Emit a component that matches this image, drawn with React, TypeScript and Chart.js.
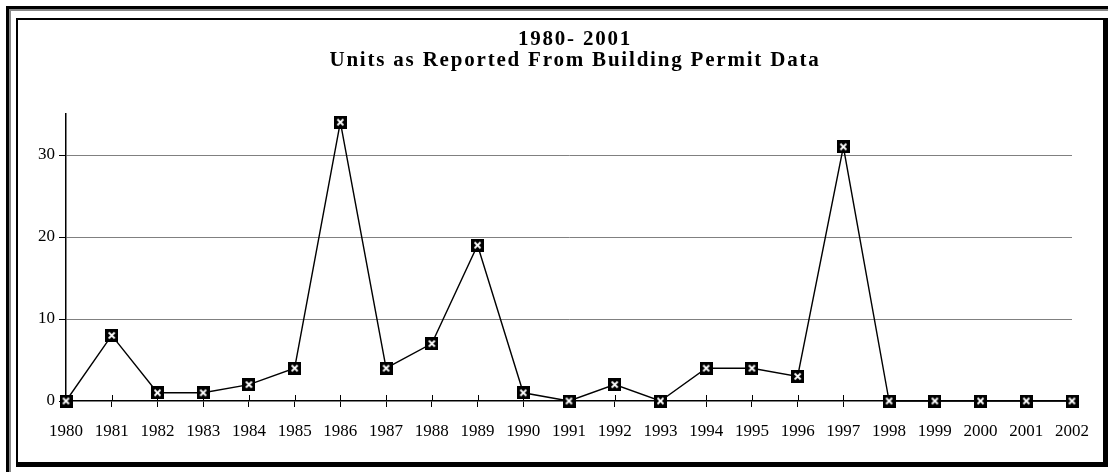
import React, { useEffect, useRef } from "react";
import { Chart, registerables } from "chart.js";

Chart.register(...registerables);

const years = [
  "1980", "1981", "1982", "1983", "1984", "1985", "1986", "1987", "1988", "1989", "1990",
  "1991", "1992", "1993", "1994", "1995", "1996", "1997", "1998", "1999", "2000", "2001", "2002",
];
const units = [0, 8, 1, 1, 2, 4, 34, 4, 7, 19, 1, 0, 2, 0, 4, 4, 3, 31, 0, 0, 0, 0, 0];
const yTicks = [0, 10, 20, 30];
const titleLines = ["1980- 2001", "Units as Reported From Building Permit Data"];

const FONT = '"Liberation Serif", "Times New Roman", serif';

function makeMarker(): HTMLCanvasElement {
  const c = document.createElement("canvas");
  c.width = 13;
  c.height = 13;
  const g = c.getContext("2d")!;
  g.fillStyle = "#000";
  g.fillRect(0, 0, 13, 13);
  g.strokeStyle = "#fff";
  g.lineWidth = 1.8;
  g.beginPath();
  g.moveTo(3.5, 3.5);
  g.lineTo(9.5, 9.5);
  g.moveTo(9.5, 3.5);
  g.lineTo(3.5, 9.5);
  g.stroke();
  return c;
}

const upTicks = {
  id: "upTicks",
  beforeDatasetsDraw(chart: any) {
    const x = chart.scales.x;
    const ctx = chart.ctx;
    ctx.save();
    ctx.strokeStyle = "#000";
    ctx.lineWidth = 1;
    x.ticks.forEach((_t: any, i: number) => {
      const px = Math.round(x.getPixelForTick(i)) + 0.5;
      ctx.beginPath();
      ctx.moveTo(px, x.top - 6);
      ctx.lineTo(px, x.top);
      ctx.stroke();
    });
    ctx.restore();
  },
};

export default function App() {
  const ref = useRef<HTMLCanvasElement>(null);
  useEffect(() => {
    const marker = makeMarker();
    const chart = new Chart(ref.current!, {
      type: "line",
      data: {
        labels: years,
        datasets: [
          {
            data: units,
            borderColor: "#000",
            borderWidth: 1.4,
            pointStyle: marker as any,
            pointRadius: 6,
            tension: 0,
            clip: false as any,
          },
        ],
      },
      options: {
        responsive: false,
        animation: false,
        layout: { padding: { left: 0, top: 114, right: 36, bottom: 0 } },
        plugins: { legend: { display: false }, tooltip: { enabled: false }, title: { display: false } },
        scales: {
          x: {
            offset: false,
            grid: { drawOnChartArea: false, drawTicks: true, tickLength: 6, color: "#000", tickColor: "#000" },
            border: { color: "#000", width: 1.5 },
            ticks: { color: "#000", font: { family: FONT, size: 17 }, padding: 14, maxRotation: 0, autoSkip: false },
            afterFit: (s: any) => {
              s.height = 71;
            },
          },
          y: {
            min: 0,
            max: 35,
            afterBuildTicks: (s: any) => {
              s.ticks = yTicks.map((v) => ({ value: v }));
            },
            grid: {
              color: (c: any) => (c.tick && c.tick.value === 0 ? "rgba(0,0,0,0)" : "#808080"),
              tickColor: "#000",
              tickLength: 7,
              lineWidth: 1,
            },
            border: { color: "#000", width: 1.5 },
            ticks: { color: "#000", font: { family: FONT, size: 17 }, padding: 4 },
            afterFit: (s: any) => {
              s.width = 66;
            },
          },
        },
      },
      plugins: [upTicks],
    });
    return () => chart.destroy();
  }, []);

  return (
    <div style={{ position: "absolute", left: 0, top: 0, width: 1108, height: 472, background: "#fff", overflow: "hidden" }}>
      <div
        style={{
          position: "absolute",
          left: 6,
          top: 6,
          width: 1200,
          height: 600,
          borderTop: "3px solid #000",
          borderLeft: "3px solid #000",
          boxSizing: "border-box",
        }}
      >
        <div style={{ position: "absolute", left: 0, top: 0, right: 0, bottom: 0, borderTop: "2px solid #888", borderLeft: "2px solid #888" }} />
      </div>
      <div
        style={{
          position: "absolute",
          left: 16,
          top: 18,
          width: 1108 - 16,
          height: 467 - 18,
          borderTop: "2px solid #000",
          borderLeft: "2px solid #000",
          borderRight: "5px solid #000",
          borderBottom: "5px solid #000",
          boxSizing: "border-box",
          background: "#fff",
        }}
      />
      <canvas ref={ref} width={1108} height={472} style={{ position: "absolute", left: 0, top: 0 }} />
      <div
        style={{
          position: "absolute",
          left: 0,
          width: 1150,
          top: 28,
          textAlign: "center",
          fontFamily: FONT,
          fontWeight: "bold",
          fontSize: 21,
          lineHeight: "21px",
          color: "#000",
          letterSpacing: 1.8,
        }}
      >
        <div>{titleLines[0]}</div>
        <div>{titleLines[1]}</div>
      </div>
    </div>
  );
}
